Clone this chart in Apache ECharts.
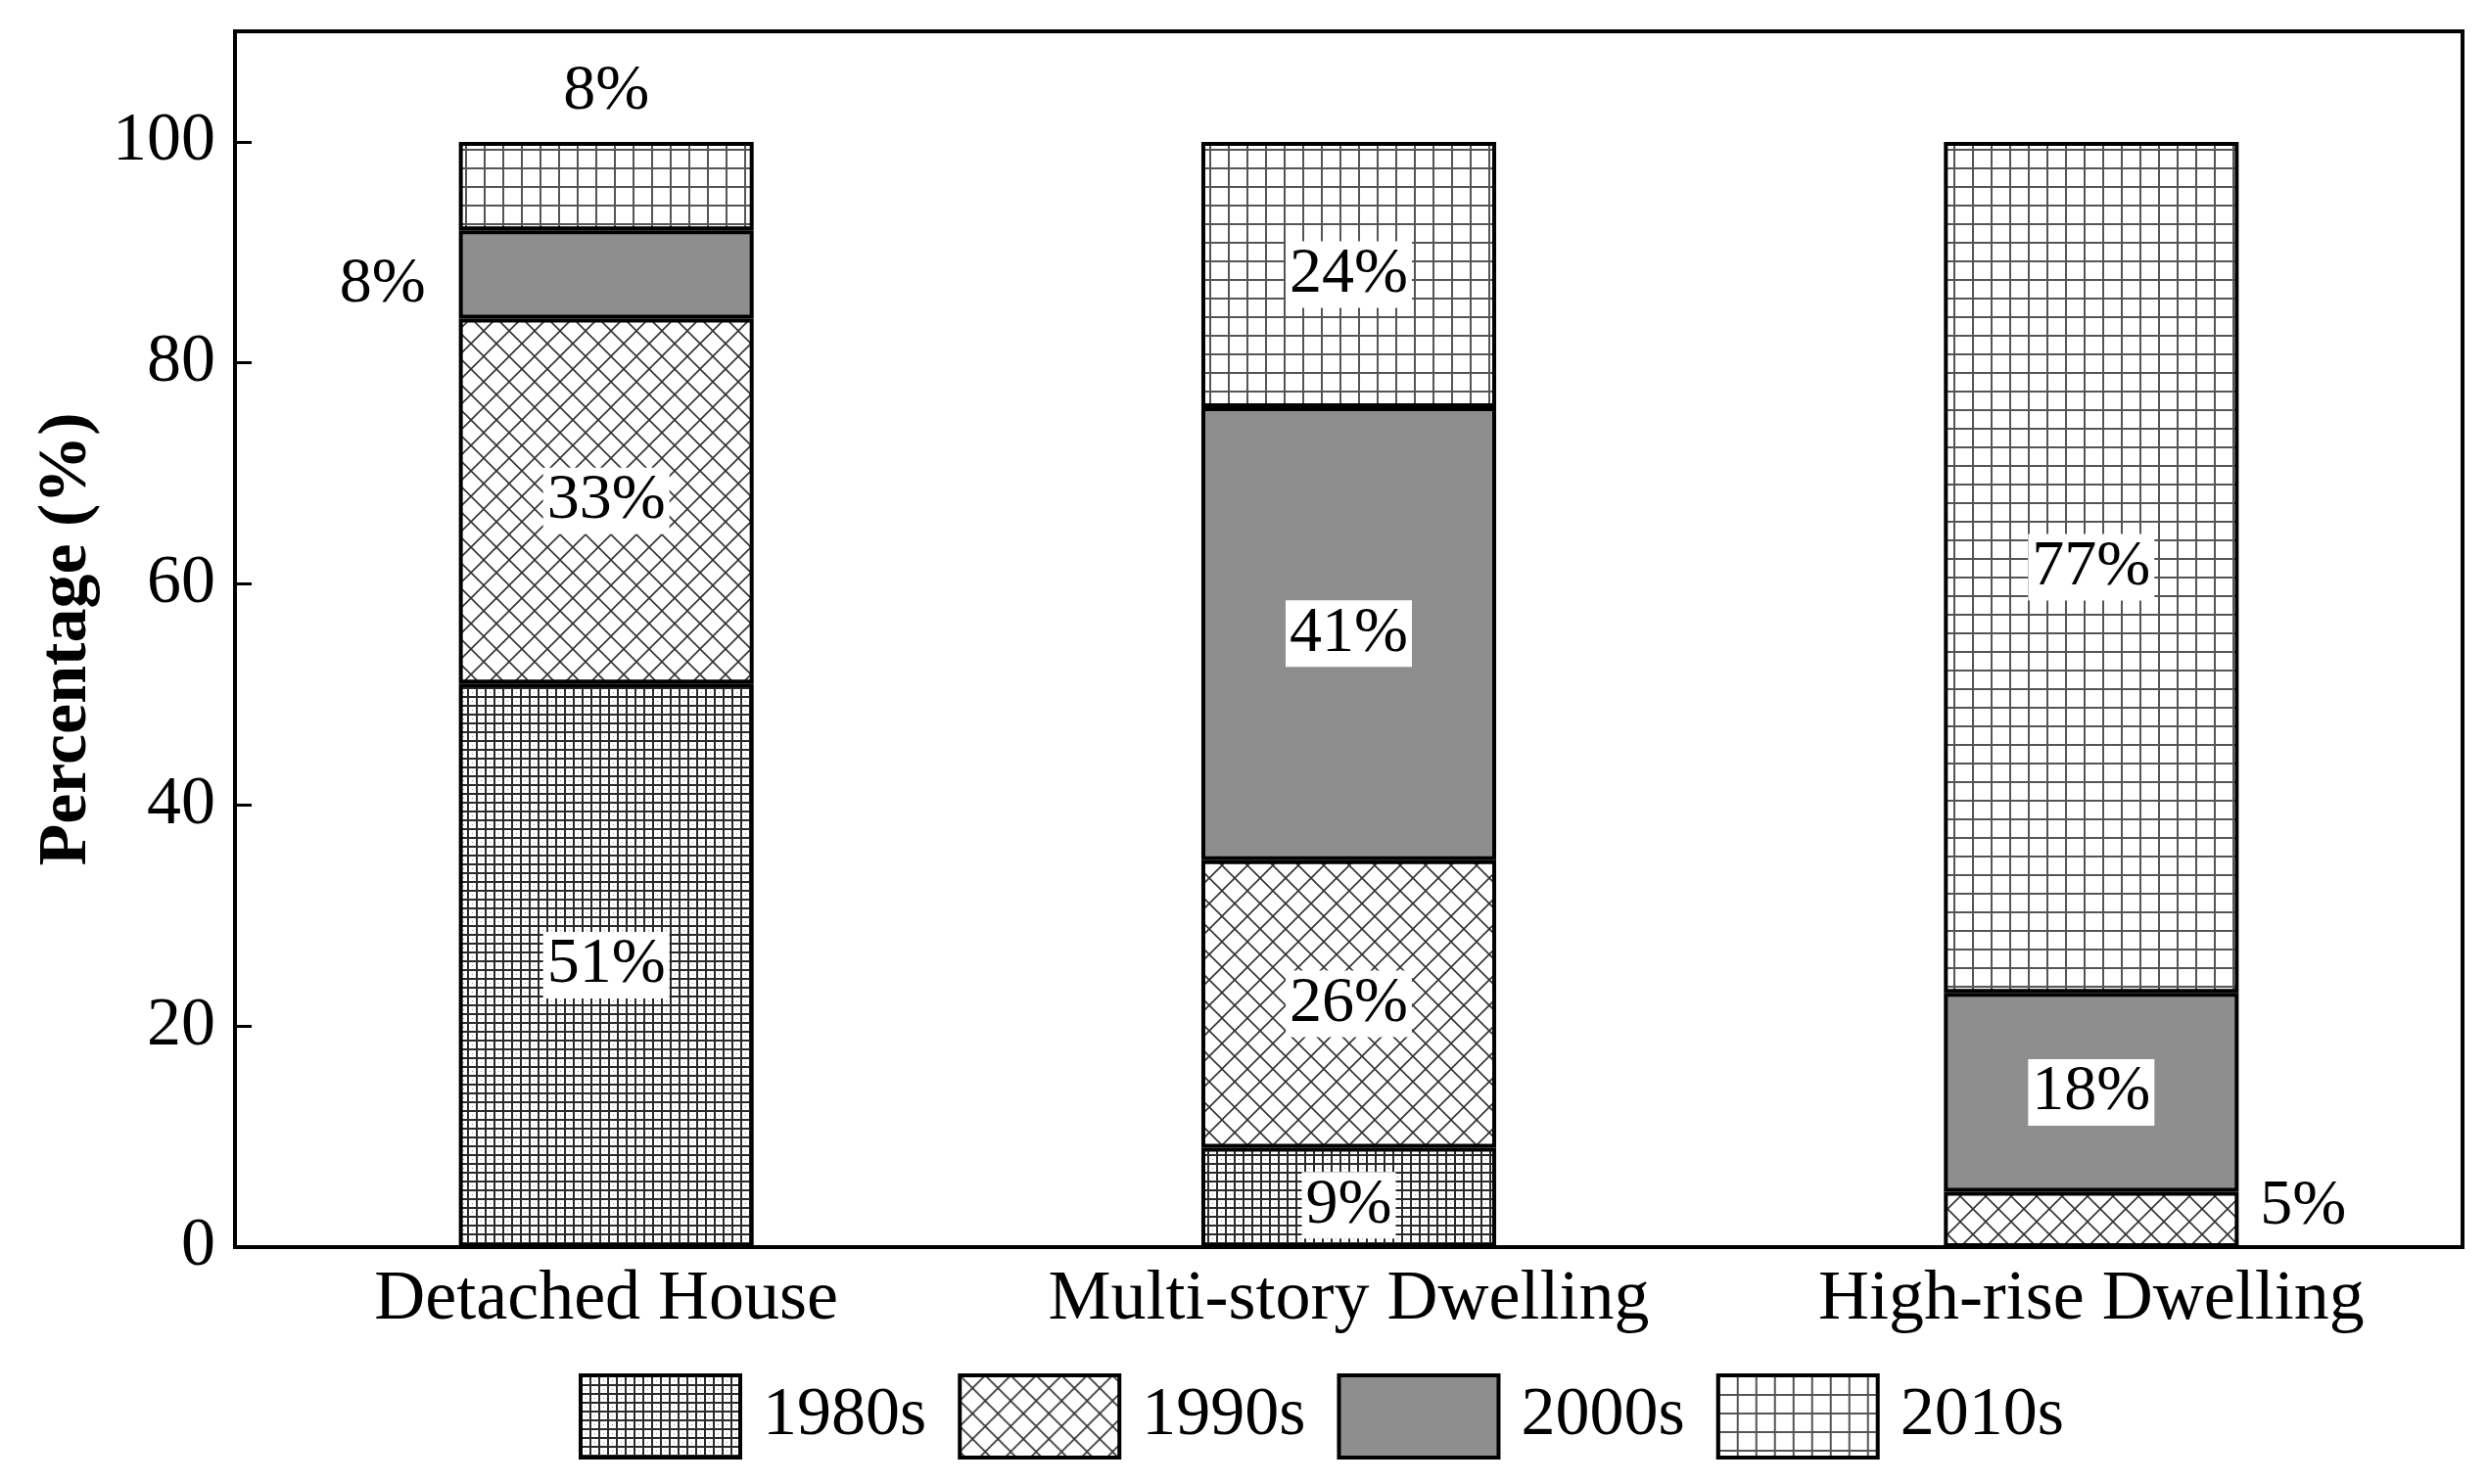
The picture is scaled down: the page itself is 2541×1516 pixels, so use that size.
<!DOCTYPE html>
<html><head><meta charset="utf-8">
<script src="https://cdn.jsdelivr.net/npm/echarts@6/dist/echarts.min.js"></script>
<style>html,body{margin:0;padding:0;background:#fff}#c{width:2541px;height:1516px}</style>
</head><body><div id="c"></div>
<script>
// ---- data ----
const categories = ['Detached House', 'Multi-story Dwelling', 'High-rise Dwelling'];
const seriesNames = ['1980s', '1990s', '2000s', '2010s'];
const v1980s = [51, 9, 0];
const v1990s = [33, 26, 5];
const v2000s = [8, 41, 18];
const v2010s = [8, 24, 77];
const yTickLabels = ['0', '20', '40', '60', '80', '100'];

// ---- styles ----
const FONT = 'Liberation Serif';
function tile(w, h, draw) {
  const c = document.createElement('canvas');
  c.width = w; c.height = h;
  const g = c.getContext('2d');
  g.fillStyle = '#fff'; g.fillRect(0, 0, w, h);
  draw(g, w, h);
  return { image: c, repeat: 'repeat' };
}
const pat1980 = tile(9, 9, (g, w, h) => {
  g.fillStyle = '#2a2a2a'; g.fillRect(0, 0, w, 2); g.fillRect(0, 0, 2, h);
  g.fillStyle = '#999'; g.fillRect(5, 5, 1, 1);
});
const pat1990 = tile(26, 26, (g, w, h) => {
  g.strokeStyle = '#333'; g.lineWidth = 1.6;
  for (const dx of [-w, 0, w]) {
    g.beginPath(); g.moveTo(dx - 2, -2); g.lineTo(dx + w + 2, h + 2); g.stroke();
    g.beginPath(); g.moveTo(dx + w + 2, -2); g.lineTo(dx - 2, h + 2); g.stroke();
  }
});
const pat2010 = tile(19, 19, (g, w, h) => {
  g.fillStyle = '#555'; g.fillRect(0, 0, w, 2); g.fillRect(0, 0, 2, h);
});
const fills = [pat1980, pat1990, '#8e8e8e', pat2010];
const values = [v1980s, v1990s, v2000s, v2010s];

const outside = { backgroundColor: 'transparent', padding: 0 };
const labelOverrides = {
  '3-0': Object.assign({ position: 'top', distance: 18 }, outside),
  '2-0': Object.assign({ position: 'left', distance: 34, offset: [0, 10] }, outside),
  '1-2': Object.assign({ position: 'right', distance: 22, offset: [0, -13] }, outside),
  '0-1': { offset: [0, 8] }
};

const series = seriesNames.map((name, s) => ({
  name,
  type: 'bar',
  stack: 'total',
  barWidth: '39.7%',
  itemStyle: { color: fills[s], borderColor: '#000', borderWidth: 4 },
  label: {
    show: true, position: 'inside', formatter: '{c}%',
    fontFamily: FONT, fontSize: 66, color: '#000',
    backgroundColor: '#fff', padding: [2, 4, 0, 4]
  },
  emphasis: { disabled: true },
  data: values[s].map((v, i) => {
    const item = { value: v };
    if (v === 0) item.label = { show: false };
    const o = labelOverrides[s + '-' + i];
    if (o) item.label = o;
    return item;
  })
}));

const chart = echarts.init(document.getElementById('c'));
chart.setOption({
  animation: false,
  backgroundColor: '#fff',
  grid: { left: 240, right: 26, top: 32, bottom: 242, show: true, borderColor: '#000', borderWidth: 4 },
  xAxis: {
    type: 'category', data: categories,
    axisLine: { lineStyle: { color: '#000', width: 4 } },
    axisTick: { inside: true, length: 17, alignWithLabel: true, lineStyle: { color: '#000', width: 3 } },
    axisLabel: { interval: 0, hideOverlap: false, fontFamily: FONT, fontSize: 72, color: '#000', margin: 18 }
  },
  yAxis: {
    type: 'value', min: 0, max: 110, interval: 20,
    name: 'Percentage (%)', nameLocation: 'middle', nameGap: 135,
    nameTextStyle: { fontFamily: FONT, fontSize: 70, fontWeight: 'bold', color: '#000' },
    axisLine: { show: true, lineStyle: { color: '#000', width: 4 } },
    axisTick: { show: true, inside: true, length: 17, lineStyle: { color: '#000', width: 3 } },
    splitLine: { show: false },
    axisLabel: {
      fontFamily: FONT, fontSize: 70, color: '#000', margin: 20,
      formatter: v => { const t = String(v); return yTickLabels.indexOf(t) >= 0 ? t : ''; }
    }
  },
  legend: {
    data: seriesNames, left: 591, top: 1403, padding: 0,
    itemWidth: 163, itemHeight: 84, itemGap: 32, icon: 'rect',
    itemStyle: { borderColor: '#000', borderWidth: 4 },
    textStyle: { fontFamily: FONT, fontSize: 70, color: '#000', padding: [0, 0, 0, 18] },
    selectedMode: false
  },
  series
});
</script></body></html>
